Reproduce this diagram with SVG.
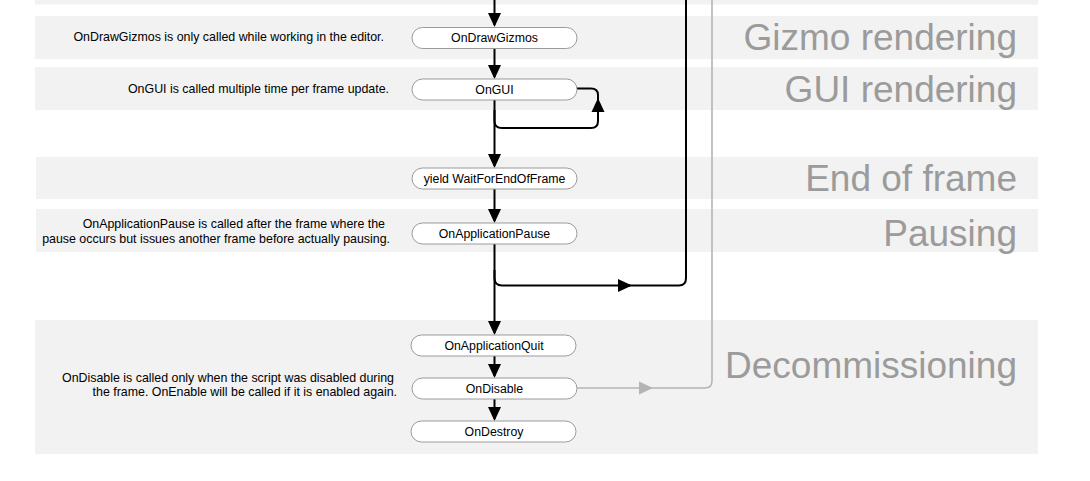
<svg xmlns="http://www.w3.org/2000/svg" width="1090" height="481" viewBox="0 0 1090 481">
<style>
.band{fill:#f2f2f2}
.bl{font-family:"Liberation Sans",Arial,sans-serif;font-size:37px;fill:#9b9b9b;text-anchor:end}
.cm{font-family:"Liberation Sans",Arial,sans-serif;font-size:12.4px;fill:#000;text-anchor:end}
.nd rect{fill:#fff;stroke:#9a9a9a;stroke-width:1}
.nd text{font-family:"Liberation Sans",Arial,sans-serif;font-size:12.3px;fill:#000;text-anchor:middle}
.k{fill:none;stroke:#000;stroke-width:2}
.g{fill:none;stroke:#b4b4b4;stroke-width:1.6}
</style>
<defs>
<marker id="ah" markerUnits="userSpaceOnUse" markerWidth="15" markerHeight="14" viewBox="0 0 15 14" refX="12" refY="7" orient="auto"><path d="M0,0.5 L14,7 L0,13.5 z" fill="#000"/></marker>
<marker id="ahg" markerUnits="userSpaceOnUse" markerWidth="15" markerHeight="14" viewBox="0 0 15 14" refX="12" refY="7" orient="auto"><path d="M0,0.5 L14,7 L0,13.5 z" fill="#b4b4b4"/></marker>
</defs>
<rect width="1090" height="481" fill="#fff"/>
<g id="bands">
<rect class="band" x="35" y="0" width="1003" height="4.5"/>
<rect class="band" x="35" y="16" width="1003" height="43"/>
<rect class="band" x="35" y="67" width="1003" height="43"/>
<rect class="band" x="36" y="157" width="1002" height="42"/>
<rect class="band" x="36" y="209" width="1002" height="43"/>
<rect class="band" x="35" y="320" width="1003" height="134"/>
<text class="bl" x="1017" y="50">Gizmo rendering</text>
<text class="bl" x="1017" y="102">GUI rendering</text>
<text class="bl" x="1017" y="191">End of frame</text>
<text class="bl" x="1017" y="246">Pausing</text>
<text class="bl" x="1017" y="378">Decommissioning</text>
</g>
<g id="comments">
<text class="cm" x="384" y="41">OnDrawGizmos is only called while working in the editor.</text>
<text class="cm" x="389" y="93">OnGUI is called multiple time per frame update.</text>
<text class="cm" x="385" y="228">OnApplicationPause is called after the frame where the</text>
<text class="cm" x="390" y="243">pause occurs but issues another frame before actually pausing.</text>
<text class="cm" x="394" y="382">OnDisable is called only when the script was disabled during</text>
<text class="cm" x="397" y="396">the frame. OnEnable will be called if it is enabled again.</text>
</g>
<g id="connectors">
<path class="k" d="M494.5,0 V25" marker-end="url(#ah)"/>
<path class="k" d="M494.5,48.5 V77" marker-end="url(#ah)"/>
<path class="k" d="M494.5,100 V166" marker-end="url(#ah)"/>
<path class="k" d="M494.5,189 V221" marker-end="url(#ah)"/>
<path class="k" d="M494.5,244 V333" marker-end="url(#ah)"/>
<path class="k" d="M494.5,356 V376" marker-end="url(#ah)"/>
<path class="k" d="M494.5,399 V419" marker-end="url(#ah)"/>
<path class="k" d="M494.5,110 V121 Q494.5,128 502,128 H591 Q598,128 598,121 V100" marker-end="url(#ah)"/>
<path class="k" d="M598,100 V95 Q598,88.5 591,88.5 H577"/>
<path class="k" d="M494.5,270 V278 Q494.5,285.5 502,285.5 H630" marker-end="url(#ah)"/>
<path class="k" d="M628,285.5 H679 Q686,285.5 686,278 V0"/>
<path class="g" d="M577,388 H651" marker-end="url(#ahg)"/>
<path class="g" d="M649,388 H705 Q712,388 712,381 V0"/>
</g>
<g id="n-ondrawgizmos" class="nd"><rect x="412" y="27.5" width="165" height="21" rx="10.5"/><text x="494.5" y="42">OnDrawGizmos</text></g>
<g id="n-ongui" class="nd"><rect x="412" y="79" width="165" height="21" rx="10.5"/><text x="494.5" y="93.5">OnGUI</text></g>
<g id="n-waitforendofframe" class="nd"><rect x="412" y="168" width="165" height="21" rx="10.5"/><text x="494.5" y="182.5">yield WaitForEndOfFrame</text></g>
<g id="n-onapplicationpause" class="nd"><rect x="412" y="223" width="165" height="21" rx="10.5"/><text x="494.5" y="237.5">OnApplicationPause</text></g>
<g id="n-onapplicationquit" class="nd"><rect x="411" y="335" width="165" height="21" rx="10.5"/><text x="494" y="349.5">OnApplicationQuit</text></g>
<g id="n-ondisable" class="nd"><rect x="412" y="378" width="165" height="21" rx="10.5"/><text x="494.5" y="392.5">OnDisable</text></g>
<g id="n-ondestroy" class="nd"><rect x="411" y="421" width="165" height="21" rx="10.5"/><text x="494" y="435.5">OnDestroy</text></g>
</svg>
